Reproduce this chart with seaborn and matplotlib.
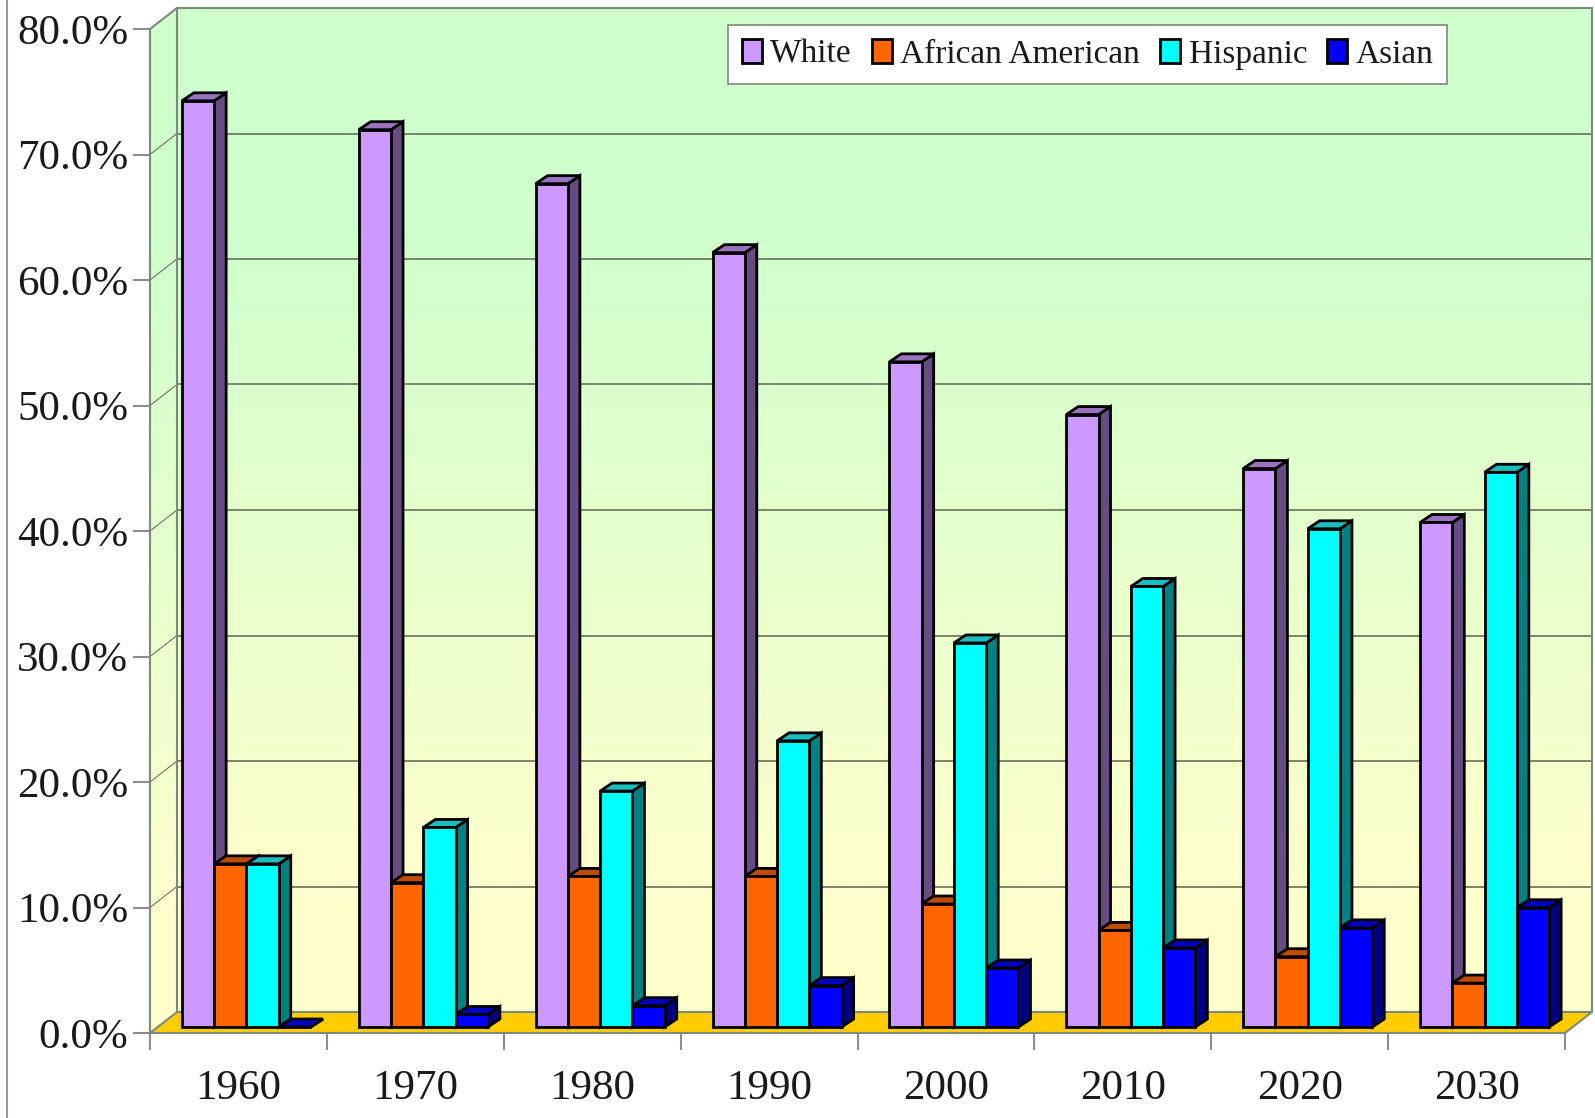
import numpy as np
import pandas as pd
import matplotlib
matplotlib.use("Agg")
import matplotlib.pyplot as plt
import seaborn as sns
from matplotlib.colors import LinearSegmentedColormap
from matplotlib.lines import Line2D
from matplotlib.patches import Patch, Polygon

years = ["1960", "1970", "1980", "1990", "2000", "2010", "2020", "2030"]
white = [73.8, 71.5, 67.2, 61.7, 53.0, 48.8, 44.5, 40.2]
african_american = [13.0, 11.5, 12.0, 12.0, 9.8, 7.7, 5.6, 3.5]
hispanic = [13.0, 15.9, 18.8, 22.8, 30.6, 35.1, 39.7, 44.2]
asian = [0.0, 1.0, 1.7, 3.3, 4.7, 6.3, 7.9, 9.5]
groups = ["White", "African American", "Hispanic", "Asian"]
y_ticks = [0, 10, 20, 30, 40, 50, 60, 70, 80]

front_colors = ["#CC99FF", "#FF6600", "#00FFFF", "#0000FF"]
side_colors = ["#664C80", "#803300", "#008080", "#000080"]
top_colors = ["#9973BF", "#BF4C00", "#19BFBF", "#0000BF"]

df = pd.DataFrame({"year": years, "White": white, "African American": african_american,
                   "Hispanic": hispanic, "Asian": asian})
df = df.melt(id_vars="year", var_name="group", value_name="share")
#numeric slot per year, keeps the x axis plain so the walls can share it
df["slot"] = df["year"].map({y: i for i, y in enumerate(years)})

sns.set_theme(style="white")
plt.rcParams["font.family"] = ["Liberation Serif", "DejaVu Serif"]

W, H = 1595, 1118
fig = plt.figure(figsize=(W / 100, H / 100), dpi=100, facecolor="white")
ax = fig.add_axes([150 / W, (H - 1033) / H, 1415 / W, 1004 / H])

sns.barplot(data=df, x="slot", y="share", hue="group", hue_order=groups, native_scale=True,
            palette=front_colors, saturation=1, width=0.73, gap=0, errorbar=None,
            edgecolor="black", linewidth=2, legend=False, ax=ax)

ax.patch.set_visible(False)
sns.despine(ax=ax, left=True, bottom=True)

#one category is 176.9 px, one percent is 12.55 px
depth_x = 27 / 176.9
depth_y = 21 / 12.55
shift_x = 8 / 176.9
shift_y = 6 / 12.55
bar_dx = 12 / 176.9
bar_dy = 8 / 12.55

x0, x1 = -0.5, 7.5
y1 = 80

#walls, green at the top fading to yellow
wall_cmap = LinearSegmentedColormap.from_list(
    "wall", [(0, "#FFFFCC"), (0.1, "#FFFFCC"), (0.78, "#CFFFCC"), (1, "#CEFFCC")])
levels = np.linspace(0, y1, 161)
mids = (levels[:-1] + levels[1:]).reshape(-1, 1) / 2
back_x = np.column_stack([np.full(161, x0 + depth_x), np.full(161, x1 + depth_x)])
back_y = np.column_stack([levels + depth_y, levels + depth_y])
ax.pcolormesh(back_x, back_y, mids, cmap=wall_cmap, vmin=0, vmax=y1, clip_on=False, zorder=0.5)
side_x = np.column_stack([np.full(161, x0), np.full(161, x0 + depth_x)])
side_y = np.column_stack([levels, levels + depth_y])
ax.pcolormesh(side_x, side_y, mids, cmap=wall_cmap, vmin=0, vmax=y1, clip_on=False, zorder=0.5)

#floor
floor = Polygon([(x0, 0), (x1, 0), (x1 + depth_x, depth_y), (x0 + depth_x, depth_y)],
                facecolor="#FFCC00", edgecolor="none", clip_on=False, zorder=0.7)
ax.add_patch(floor)

#gridlines on the back wall and on the side wall
for v in y_ticks[1:-1]:
    ax.plot([x0 + depth_x, x1 + depth_x], [v + depth_y, v + depth_y], color="#5A6450",
            lw=1.1, clip_on=False, zorder=1)
    ax.plot([x0, x0 + depth_x], [v, v + depth_y], color="#5A6450", lw=0.7,
            clip_on=False, zorder=1)

#wall borders
border = "#7C8A7C"
border_lines = [
    ([x0, x0], [0, y1]),
    ([x0 + depth_x, x0 + depth_x], [depth_y, y1 + depth_y]),
    ([x0 + depth_x, x1 + depth_x], [y1 + depth_y, y1 + depth_y]),
    ([x1 + depth_x, x1 + depth_x], [depth_y, y1 + depth_y]),
    ([x0, x0 + depth_x], [y1, y1 + depth_y]),
    ([x0, x0 + depth_x], [0, depth_y]),
    ([x1, x1 + depth_x], [0, depth_y]),
    ([x0, x1], [0, 0]),
    ([x0 + depth_x, x1 + depth_x], [depth_y, depth_y]),
]
for xs, ys in border_lines:
    ax.plot(xs, ys, color=border, lw=1.5, clip_on=False, zorder=1.2)

#give each bar its side and top, left to right so later bars cover earlier sides
bars = []
for g, container in enumerate(ax.containers):
    for p in container:
        bars.append((p, g))
bars.sort(key=lambda b: b[0].get_x())
for i, (p, g) in enumerate(bars):
    p.set_x(p.get_x() + shift_x)
    p.set_y(shift_y)
    left = p.get_x()
    right = left + p.get_width()
    top = shift_y + p.get_height()
    z = 2 + i * 0.01
    side = Polygon([(right, shift_y), (right + bar_dx, shift_y + bar_dy),
                    (right + bar_dx, top + bar_dy), (right, top)],
                   facecolor=side_colors[g], edgecolor="black", lw=2, zorder=z, clip_on=False)
    cap = Polygon([(left, top), (left + bar_dx, top + bar_dy),
                   (right + bar_dx, top + bar_dy), (right, top)],
                  facecolor=top_colors[g], edgecolor="black", lw=2, zorder=z, clip_on=False)
    ax.add_patch(side)
    ax.add_patch(cap)
    p.set_zorder(z + 0.001)
    p.set_clip_on(False)

#axes text and ticks
ax.set_xlim(x0, x1)
ax.set_ylim(0, y1)
ax.set_xlabel("")
ax.set_ylabel("")
ax.set_yticks(y_ticks, labels=[f"{v:.1f}%" for v in y_ticks])
ax.set_xticks(np.arange(9) - 0.5, labels=[""] * 9)
ax.set_xticks(np.arange(8), labels=years, minor=True)
ax.tick_params(axis="y", which="major", left=True, length=12, width=1.5, color="#8C8C8C",
               labelsize=31, labelcolor="#1A1A1A", pad=3.5)
ax.tick_params(axis="x", which="major", bottom=True, length=12, width=1.5, color="#8C8C8C")
ax.tick_params(axis="x", which="minor", bottom=False, length=0, labelsize=31,
               labelcolor="#1A1A1A", pad=26)

#legend
handles = [Patch(facecolor=c, edgecolor="black", linewidth=2, label=n)
           for c, n in zip(front_colors, groups)]
leg = ax.legend(handles=handles, ncol=4, loc="upper left", frameon=True, fancybox=False,
                bbox_to_anchor=(728 / W, (H - 25) / H), bbox_transform=fig.transFigure,
                fontsize=24, framealpha=1, facecolor="white", edgecolor="#7C8A7C",
                handlelength=0.6, handleheight=0.75, handletextpad=0.25,
                columnspacing=0.6, borderpad=0.42, borderaxespad=0, labelcolor="#1A1A1A")
leg.get_frame().set_linewidth(1.2)
leg.set_zorder(10)

#outer frame of the picture, only the left side shows
fig.add_artist(Line2D([7 / W, 7 / W], [0, 1], color="#9A9A9A", lw=1.5, transform=fig.transFigure))

fig.savefig("out.png", dpi=100)
